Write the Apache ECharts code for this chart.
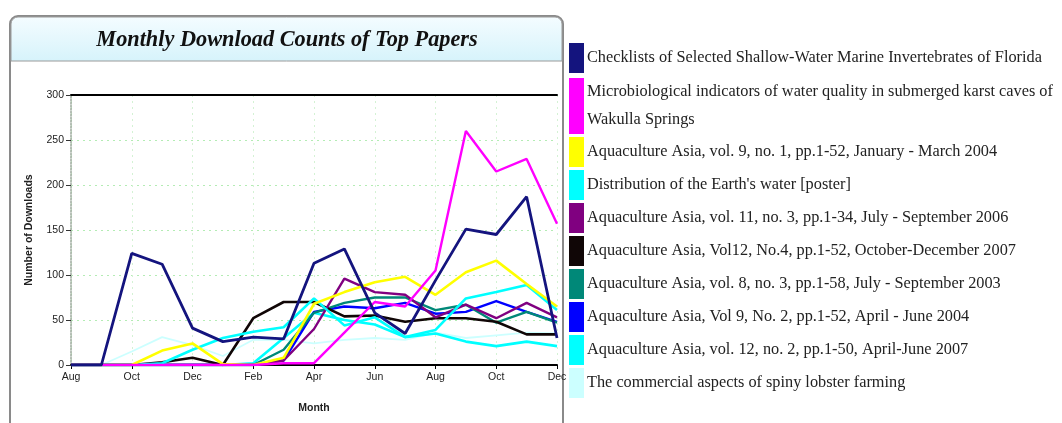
<!DOCTYPE html>
<html><head><meta charset="utf-8">
<script src="https://cdn.jsdelivr.net/npm/echarts@6/dist/echarts.min.js"></script>
<style>html,body{margin:0;padding:0;background:#fff}#c{width:1062px;height:423px}</style>
</head><body><div id="c"></div>
<script>
var months = ['Aug','Sep','Oct','Nov','Dec','Jan','Feb','Mar','Apr','May','Jun','Jul','Aug','Sep','Oct','Nov','Dec'];
var yTicks = [0, 50, 100, 150, 200, 250, 300];

var names = [
  'Checklists of Selected Shallow-Water Marine Invertebrates of Florida',
  'Microbiological indicators of water quality in submerged karst caves of Wakulla Springs',
  'Aquaculture Asia, vol. 9, no. 1, pp.1-52, January - March 2004',
  "Distribution of the Earth's water [poster]",
  'Aquaculture Asia, vol. 11, no. 3, pp.1-34, July - September 2006',
  'Aquaculture Asia, Vol12, No.4, pp.1-52, October-December 2007',
  'Aquaculture Asia, vol. 8, no. 3, pp.1-58, July - September 2003',
  'Aquaculture Asia, Vol 9, No. 2, pp.1-52, April - June 2004',
  'Aquaculture Asia, vol. 12, no. 2, pp.1-50, April-June 2007',
  'The commercial aspects of spiny lobster farming'
];

var checklists   = [0,0,124,112,41,26,31,29,113,129,58,35,94,151,145,187,30];
var microbio     = [0,0,0,0,0,0,0,2,2,36,70,65,105,260,215,229,157];
var aqua9no1     = [0,0,0,16,24,1,0,8,68,81,92,98,78,103,116,90,65];
var distribution = [0,0,0,2,17,30,37,42,74,44,53,31,39,74,81,89,61];
var aqua11no3    = [0,0,0,0,0,0,0,5,40,96,81,78,53,67,52,69,53];
var aqua12no4    = [0,0,0,3,8,0,52,70,70,54,55,48,52,52,48,34,34];
var aqua8no3     = [0,0,0,0,0,0,0,17,58,69,75,75,61,67,47,59,47];
var aqua9no2     = [0,0,0,0,0,0,0,5,59,65,63,69,57,59,71,59,48];
var aqua12no2    = [0,0,0,0,0,0,2,30,58,50,45,31,35,26,21,26,21];
var lobster      = [0,0,15,31,22,10,28,28,24,28,30,28,36,30,33,36,35];

var values = [checklists, microbio, aqua9no1, distribution, aqua11no3, aqua12no4, aqua8no3, aqua9no2, aqua12no2, lobster];
var colors = ['#14147e','#ff00ff','#ffff00','#00ffff','#800080','#100606','#008878','#0000ff','#00ffff','#ccffff'];
var widths = [2.8,2.4,2.6,2.6,2.4,2.6,2.4,2.4,2.6,1.8];

var series = values.map(function (v, i) {
  return {
    name: names[i], type: 'line', data: v, symbol: 'none',
    lineStyle: { color: colors[i], width: widths[i] },
    itemStyle: { color: colors[i] },
    z: 10 - i
  };
});

var legendText = { fontFamily: 'Liberation Serif', fontSize: 16.3, color: '#222' };
function legendBlock(data, top, h, fmt) {
  return {
    orient: 'vertical', left: 569, top: top, icon: 'rect',
    itemWidth: 15, itemHeight: h, itemGap: 3, padding: 0,
    data: data, selectedMode: false,
    textStyle: Object.assign({ lineHeight: 28, padding: [2, 0, 0, -2] }, legendText),
    formatter: fmt || function (n) { return n; }
  };
}

var chart = echarts.init(document.getElementById('c'));
chart.setOption({
  animation: false,
  backgroundColor: '#fff',
  graphic: [
    { type: 'rect', z: -10, shape: { x: 10, y: 16, width: 553, height: 420, r: 8 },
      style: { fill: '#fff', stroke: '#8a8a8a', lineWidth: 2 } },
    { type: 'rect', z: -9, shape: { x: 11, y: 17, width: 551, height: 44, r: [7,7,0,0] },
      style: { fill: new echarts.graphic.LinearGradient(0,0,0,1,[{offset:0,color:'#f4fcff'},{offset:1,color:'#d6f3fb'}]),
               stroke: '#9a9a9a', lineWidth: 1 } }
  ],
  title: {
    text: 'Monthly Download Counts of Top Papers', left: 282, top: 24, textAlign: 'center',
    textStyle: { fontFamily: 'Liberation Serif', fontStyle: 'italic', fontWeight: 'bold', fontSize: 22.3, color: '#111' }
  },
  legend: [
    legendBlock([names[0]], 43, 30),
    legendBlock([names[1]], 77, 56, function (n) { return n.replace(' of Wakulla', ' of\nWakulla'); }),
    legendBlock(names.slice(2), 137, 30)
  ],
  grid: { left: 71, right: 505, top: 95, bottom: 58 },
  xAxis: [{
    type: 'category', data: months, boundaryGap: false,
    name: 'Month', nameLocation: 'middle', nameGap: 38,
    nameTextStyle: { fontFamily: 'Liberation Sans', fontWeight: 'bold', fontSize: 10.5, color: '#222' },
    axisLine: { lineStyle: { color: '#000', width: 2 } },
    axisTick: { interval: 1, length: 4, lineStyle: { color: '#000' } },
    axisLabel: { interval: 1, fontFamily: 'Liberation Sans', fontSize: 10.5, color: '#222', margin: 7 },
    splitLine: { show: true, interval: 1, lineStyle: { color: '#d4f2d4', type: [2, 4], width: 1 } }
  }, {
    type: 'category', data: months, position: 'top', boundaryGap: false,
    axisLine: { lineStyle: { color: '#000', width: 2 } },
    axisTick: { show: false }, axisLabel: { show: false }
  }],
  yAxis: {
    type: 'value', min: 0, max: 300, interval: 50,
    name: 'Number of Downloads', nameLocation: 'middle', nameGap: 36, nameRotate: 90,
    nameTextStyle: { fontFamily: 'Liberation Sans', fontWeight: 'bold', fontSize: 10.5, color: '#222' },
    axisLine: { show: true, lineStyle: { color: '#9aa89a', type: 'dotted', width: 1.5 } },
    axisTick: { show: true, length: 5, lineStyle: { color: '#333' } },
    axisLabel: { fontFamily: 'Liberation Sans', fontSize: 10.5, color: '#222', margin: 7,
      formatter: function (v) { return yTicks.indexOf(v) >= 0 ? String(v) : ''; } },
    splitLine: { lineStyle: { color: '#b4ecb4', type: [2, 4], width: 1 } }
  },
  series: series
});
</script></body></html>
